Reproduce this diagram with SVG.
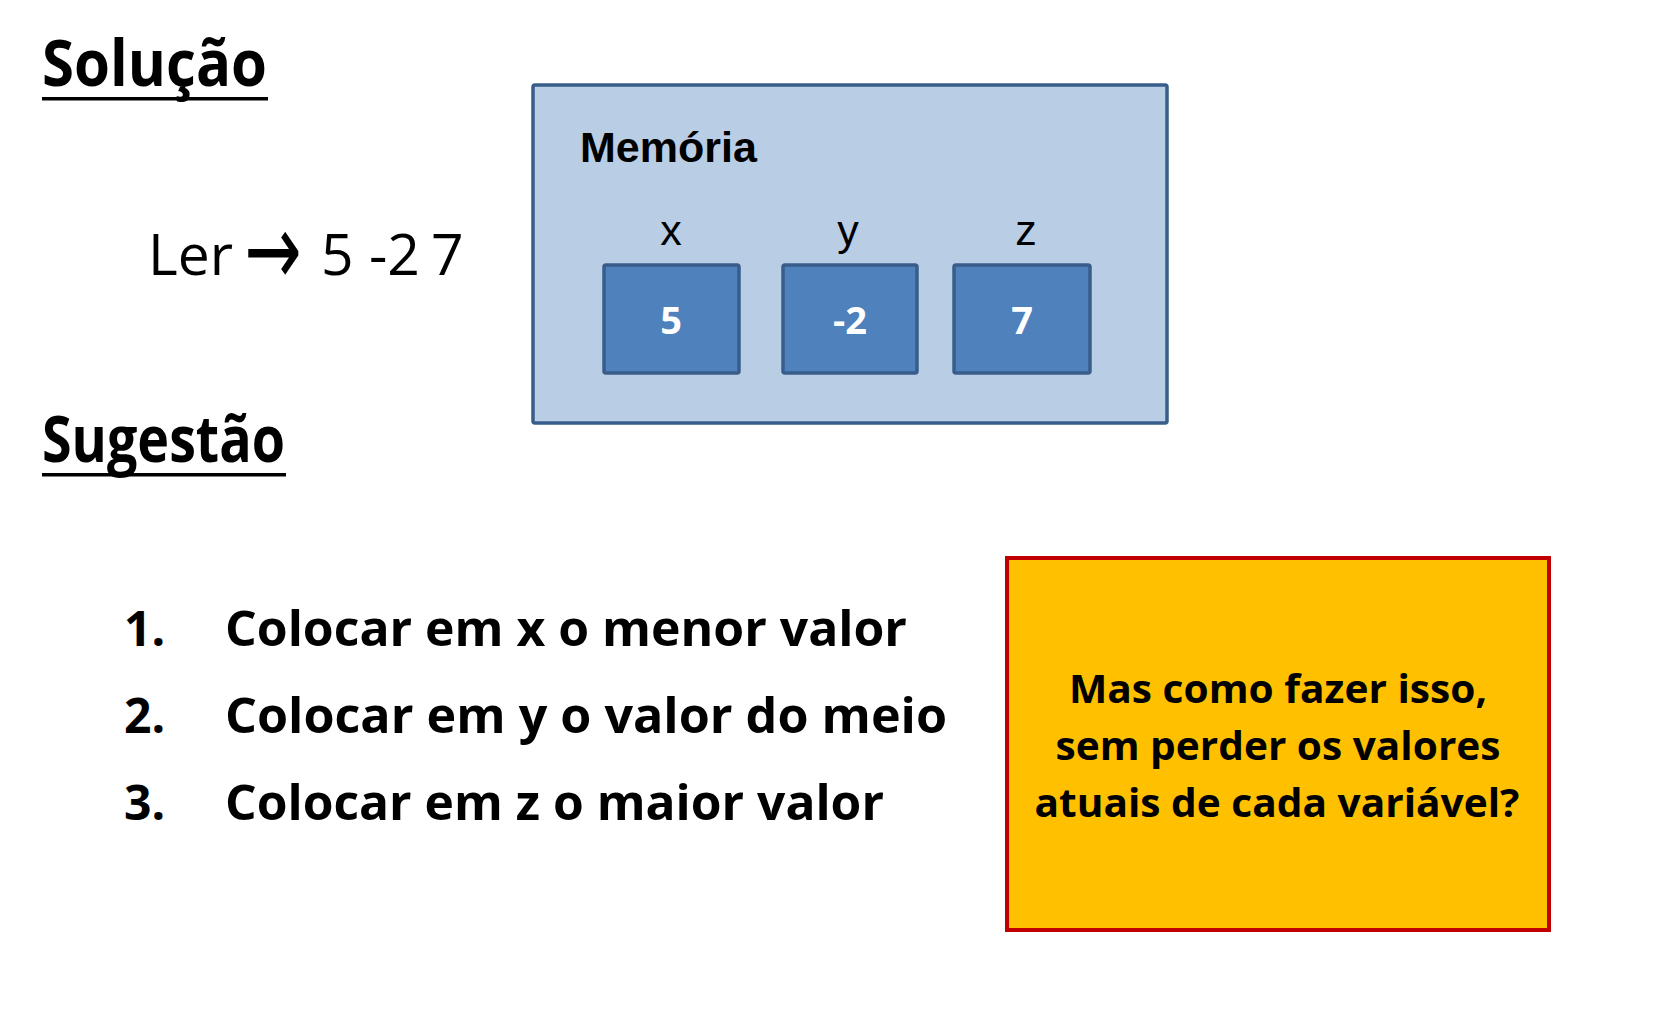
<svg xmlns="http://www.w3.org/2000/svg" width="1653" height="1009" viewBox="0 0 1653 1009">
  <style>
    .os { font-family: "Open Sans", "Noto Sans", "Liberation Sans", sans-serif; }
    .heading { font-weight: 700; font-size: 64px; fill: #000; }
    .ler { font-weight: 400; font-size: 57px; fill: #000; }
    .arrow { font-family: "DejaVu Sans", "Liberation Sans", sans-serif; font-size: 72px; fill: #000; text-anchor: middle; }
    .list { font-weight: 700; font-size: 48px; fill: #000; }
    .note { font-weight: 700; font-size: 39px; fill: #000; text-anchor: middle; }
    .arial { font-family: "Liberation Sans", Arial, sans-serif; fill: #000; }
    .memtitle { font-weight: 700; font-size: 43px; }
    .varlabel { font-weight: 400; font-size: 43px; text-anchor: middle; }
    .cell { fill: #4F81BD; stroke: #385D8A; stroke-width: 3.5; }
    .cellval { font-weight: 700; font-size: 38px; fill: #FFFFFF; text-anchor: middle; }
    .uline { fill: #000; }
  </style>

  <rect x="0" y="0" width="1653" height="1009" fill="#FFFFFF"/>

  <g id="title-solucao">
    <text class="os heading" x="42" y="86" textLength="225" lengthAdjust="spacingAndGlyphs">Solução</text>
    <rect class="uline" x="42" y="97" width="226" height="3.5"/>
  </g>

  <g id="ler-line">
    <text class="os ler" y="275"><tspan x="148">Ler</tspan><tspan x="321">5</tspan><tspan x="369">-2</tspan><tspan x="431">7</tspan></text>
    <text class="arrow" transform="translate(273,252.5) scale(0.95,1.4)" x="0" y="23">→</text>
  </g>

  <g id="memoria">
    <rect x="533" y="85" width="634" height="338" rx="2" fill="#B9CDE5" stroke="#385D8A" stroke-width="3.5"/>
    <text class="arial memtitle" x="580" y="162">Memória</text>
  </g>

  <g id="var-x">
    <text class="arial varlabel" x="671" y="245">x</text>
    <rect class="cell" x="604" y="265" width="135" height="108" rx="2"/>
    <text class="os cellval" x="671" y="334">5</text>
  </g>

  <g id="var-y">
    <text class="arial varlabel" x="848" y="245">y</text>
    <rect class="cell" x="783" y="265" width="134" height="108" rx="2"/>
    <text class="os cellval" x="850" y="334">-2</text>
  </g>

  <g id="var-z">
    <text class="arial varlabel" x="1026" y="245">z</text>
    <rect class="cell" x="954" y="265" width="136" height="108" rx="2"/>
    <text class="os cellval" x="1022" y="334">7</text>
  </g>

  <g id="title-sugestao">
    <text class="os heading" x="42" y="462" textLength="243" lengthAdjust="spacingAndGlyphs">Sugestão</text>
    <rect class="uline" x="42" y="473" width="244" height="3.5"/>
  </g>

  <g id="lista">
    <text class="os list" x="124" y="646">1.</text>
    <text class="os list" x="225" y="646" textLength="682" lengthAdjust="spacingAndGlyphs">Colocar em x o menor valor</text>
    <text class="os list" x="124" y="733">2.</text>
    <text class="os list" x="225" y="733" textLength="722" lengthAdjust="spacingAndGlyphs">Colocar em y o valor do meio</text>
    <text class="os list" x="124" y="820">3.</text>
    <text class="os list" x="225" y="820" textLength="659" lengthAdjust="spacingAndGlyphs">Colocar em z o maior valor</text>
  </g>

  <g id="nota">
    <rect x="1007" y="558" width="542" height="372" fill="#FFC000" stroke="#C00000" stroke-width="4"/>
    <text class="os note" x="1278" y="703" textLength="418" lengthAdjust="spacingAndGlyphs">Mas como fazer isso,</text>
    <text class="os note" x="1278" y="760" textLength="445" lengthAdjust="spacingAndGlyphs">sem perder os valores</text>
    <text class="os note" x="1277" y="817" textLength="485" lengthAdjust="spacingAndGlyphs">atuais de cada variável?</text>
  </g>

  <g id="connectors"></g>
</svg>
